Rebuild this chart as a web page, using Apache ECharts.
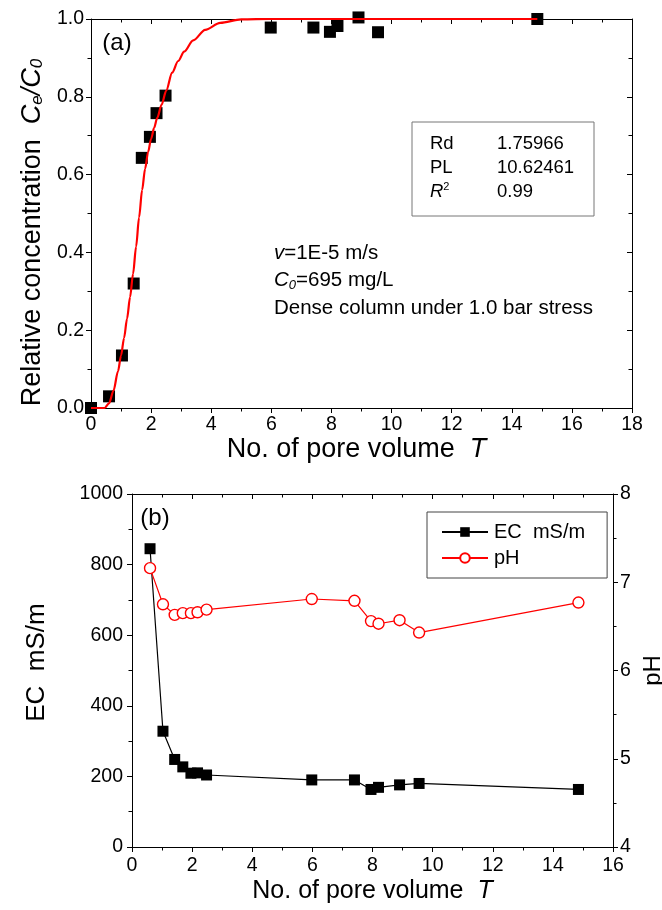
<!DOCTYPE html>
<html>
<head>
<meta charset="utf-8">
<script src="https://cdn.jsdelivr.net/npm/echarts@6/dist/echarts.min.js"></script>
<style>
  html, body { margin: 0; padding: 0; background: #ffffff; }
  #chart { width: 662px; height: 910px; }
</style>
</head>
<body>
<div id="chart"></div>
<script>
const FONT = '"Liberation Sans", Arial, Helvetica, sans-serif';

// ---- (a) breakthrough curve: measured relative concentration vs pore volume
const tBreak   = [0, 0.6, 1.03, 1.42, 1.69, 1.96, 2.18, 2.48, 5.98, 7.4, 7.95, 8.2, 8.9, 9.55, 14.85];
const relConc  = [0, 0.03, 0.135, 0.32, 0.643, 0.697, 0.758, 0.803, 0.978, 0.978, 0.967, 0.982, 1.004, 0.966, 1.0];

// fitted CDE curve (Rd = 1.75966, PL = 10.62461)
const tFit = [0, 0.45, 0.6, 0.75, 0.9, 1.0, 1.1, 1.2, 1.3, 1.4, 1.5, 1.6, 1.7, 1.8, 1.9, 2.0, 2.1, 2.2, 2.35, 2.5, 2.7, 2.9, 3.1, 3.4, 3.8, 4.3, 5.0, 6.0, 10.0, 14.85];
const cFit = [0, 0, 0.012, 0.045, 0.095, 0.135, 0.18, 0.23, 0.285, 0.345, 0.415, 0.49, 0.56, 0.615, 0.658, 0.692, 0.72, 0.745, 0.78, 0.815, 0.862, 0.892, 0.916, 0.945, 0.972, 0.99, 0.999, 1.0, 1.0, 1.0];

// ---- (b) effluent EC and pH vs pore volume
const tEffluent = [0.6, 1.03, 1.42, 1.69, 1.96, 2.18, 2.48, 5.98, 7.4, 7.95, 8.2, 8.9, 9.55, 14.85];
const ecValues  = [845, 328, 248, 227, 209, 210, 204, 190, 190, 163, 169, 176, 180, 163];
const phValues  = [7.16, 6.75, 6.63, 6.65, 6.65, 6.66, 6.69, 6.81, 6.79, 6.56, 6.53, 6.57, 6.43, 6.77];

// ---- tick labels
const xTicksA = ['0', '2', '4', '6', '8', '10', '12', '14', '16', '18'];
const yTicksA = ['0.0', '0.2', '0.4', '0.6', '0.8', '1.0'];
const xTicksB = ['0', '2', '4', '6', '8', '10', '12', '14', '16'];
const ecTicks = ['0', '200', '400', '600', '800', '1000'];
const phTicks = ['4', '5', '6', '7', '8'];

function zip(xs, ys) { return xs.map((x, i) => [x, ys[i]]); }

function scaleFrom(ticks) {
  const nums = ticks.map(Number);
  return { min: nums[0], max: nums[nums.length - 1], interval: nums[1] - nums[0] };
}
function labelFrom(ticks) {
  const map = {};
  ticks.forEach(t => { map[Number(t).toFixed(4)] = t; });
  return v => map[Number(v).toFixed(4)] ?? '';
}

const TICK_FONT = 19.5;

function valueAxis(ticks, opts) {
  const s = scaleFrom(ticks);
  const showLabel = opts.showLabel !== false;
  return Object.assign({
    type: 'value',
    min: s.min, max: s.max, interval: s.interval,
    scale: false,
    axisLine: { show: true, onZero: false, lineStyle: { color: '#000', width: 1 } },
    axisTick: { show: true, inside: !!opts.inside, length: 5, lineStyle: { color: '#000', width: 1 } },
    minorTick: { show: true, splitNumber: 2, length: 3.5, lineStyle: { color: '#000', width: 1 } },
    splitLine: { show: false },
    minorSplitLine: { show: false },
    axisLabel: {
      show: showLabel, color: '#000', fontFamily: FONT, fontSize: TICK_FONT,
      margin: opts.margin || 8, formatter: labelFrom(ticks),
      showMinLabel: true, showMaxLabel: true, hideOverlap: false
    }
  }, opts.extra || {});
}

const titleStyle = (size, padding) => ({
  color: '#000', fontFamily: FONT, fontSize: size, lineHeight: size,
  padding: padding || 0,
  rich: {
    n: { fontFamily: FONT, fontSize: size, color: '#000', lineHeight: size },
    i: { fontFamily: FONT, fontSize: size, color: '#000', fontStyle: 'italic', lineHeight: size },
    s: { fontFamily: FONT, fontSize: Math.round(size * 0.62), color: '#000', fontStyle: 'italic', verticalAlign: 'bottom', lineHeight: Math.round(size * 0.62) }
  }
});

const chart = echarts.init(document.getElementById('chart'), null, { renderer: 'canvas' });

const option = {
  backgroundColor: '#ffffff',
  animation: false,
  grid: [
    { left: 91, top: 19, width: 541, height: 389, containLabel: false, outerBoundsMode: 'none' },
    { left: 132, top: 494, width: 481, height: 353, containLabel: false, outerBoundsMode: 'none' }
  ],
  xAxis: [
    valueAxis(xTicksA, { margin: 7, extra: {
      gridIndex: 0, position: 'bottom',
      name: '{n|No. of pore volume  }{i|T}', nameLocation: 'middle', nameGap: 22,
      nameTextStyle: titleStyle(27, [0, 10, 0, 0])
    }}),
    valueAxis(xTicksA, { inside: true, showLabel: false, extra: { gridIndex: 0, position: 'top' } }),
    valueAxis(xTicksB, { margin: 9, extra: {
      gridIndex: 1, position: 'bottom',
      name: '{n|No. of pore volume  }{i|T}', nameLocation: 'middle', nameGap: 32,
      nameTextStyle: titleStyle(25)
    }}),
    valueAxis(xTicksB, { inside: true, showLabel: false, extra: { gridIndex: 1, position: 'top' } })
  ],
  yAxis: [
    valueAxis(yTicksA, { margin: 7, extra: {
      gridIndex: 0, position: 'left',
      name: '{n|Relative concentration  }{i|C}{s|e}{i|/C}{s|0}', nameLocation: 'middle', nameRotate: 90, nameGap: 38,
      nameTextStyle: titleStyle(27, [0, 38, 0, 0])
    }}),
    valueAxis(yTicksA, { inside: true, showLabel: false, extra: { gridIndex: 0, position: 'right' } }),
    valueAxis(ecTicks, { margin: 9, extra: {
      gridIndex: 1, position: 'left',
      name: 'EC  mS/m', nameLocation: 'middle', nameRotate: 90, nameGap: 82,
      nameTextStyle: titleStyle(26, [0, 0, 0, 16])
    }}),
    valueAxis(phTicks, { margin: 7, extra: {
      gridIndex: 1, position: 'right',
      name: 'pH', nameLocation: 'middle', nameRotate: 90, nameGap: 20,
      nameTextStyle: titleStyle(24)
    }})
  ],
  legend: {
    show: true,
    orient: 'vertical',
    left: 427, top: 512,
    padding: [10, 22, 10, 14],
    itemGap: 6,
    itemWidth: 46, itemHeight: 12,
    borderColor: '#444', borderWidth: 1, borderRadius: 0,
    backgroundColor: '#ffffff',
    textStyle: { color: '#000', fontFamily: FONT, fontSize: 20, padding: [0, 0, 0, 1] },
    data: ['EC  mS/m', 'pH']
  },
  series: [
    {
      name: 'measured',
      type: 'scatter',
      xAxisIndex: 0, yAxisIndex: 0,
      symbol: 'rect', symbolSize: 12,
      clip: false,
      itemStyle: { color: '#000', opacity: 1 },
      data: zip(tBreak, relConc)
    },
    {
      name: 'fit',
      type: 'line',
      xAxisIndex: 0, yAxisIndex: 0,
      showSymbol: false, symbol: 'none',
      smooth: 0.3, smoothMonotone: 'x',
      clip: false,
      lineStyle: { color: '#ff0000', width: 2.2 },
      data: zip(tFit, cFit)
    },
    {
      name: 'EC  mS/m',
      type: 'line',
      xAxisIndex: 2, yAxisIndex: 2,
      symbol: 'rect', symbolSize: 11, showSymbol: true,
      clip: false,
      lineStyle: { color: '#000', width: 1.2 },
      itemStyle: { color: '#000', borderWidth: 0, opacity: 1 },
      data: zip(tEffluent, ecValues)
    },
    {
      name: 'pH',
      type: 'line',
      xAxisIndex: 2, yAxisIndex: 3,
      symbol: 'circle', symbolSize: 11, showSymbol: true,
      clip: false,
      lineStyle: { color: '#ff0000', width: 1.2 },
      itemStyle: { color: '#ffffff', borderColor: '#ff0000', borderWidth: 1.4, opacity: 1 },
      data: zip(tEffluent, phValues)
    }
  ],
  graphic: [
    // panel labels
    { type: 'text', x: 117, y: 43, style: { text: '(a)', fontFamily: FONT, fontSize: 24, fill: '#000', align: 'center', verticalAlign: 'middle' } },
    { type: 'text', x: 155, y: 518, style: { text: '(b)', fontFamily: FONT, fontSize: 24, fill: '#000', align: 'center', verticalAlign: 'middle' } },
    // fit parameters box
    { type: 'rect', shape: { x: 412, y: 122, width: 182, height: 94 }, style: { fill: 'none', stroke: '#777', lineWidth: 1 } },
    { type: 'text', x: 430, y: 144, style: { text: 'Rd', fontFamily: FONT, fontSize: 18.5, fill: '#000', verticalAlign: 'middle' } },
    { type: 'text', x: 497, y: 144, style: { text: '1.75966', fontFamily: FONT, fontSize: 18.5, fill: '#000', verticalAlign: 'middle' } },
    { type: 'text', x: 430, y: 168, style: { text: 'PL', fontFamily: FONT, fontSize: 18.5, fill: '#000', verticalAlign: 'middle' } },
    { type: 'text', x: 497, y: 168, style: { text: '10.62461', fontFamily: FONT, fontSize: 18.5, fill: '#000', verticalAlign: 'middle' } },
    { type: 'text', x: 430, y: 192, style: {
      text: '{i|R}{p|2}', verticalAlign: 'middle',
      rich: {
        i: { fontFamily: FONT, fontSize: 18.5, fontStyle: 'italic', fill: '#000', lineHeight: 22 },
        p: { fontFamily: FONT, fontSize: 11, fill: '#000', verticalAlign: 'top', lineHeight: 11 }
      }
    } },
    { type: 'text', x: 497, y: 192, style: { text: '0.99', fontFamily: FONT, fontSize: 18.5, fill: '#000', verticalAlign: 'middle' } },
    // experiment conditions
    { type: 'text', x: 274, y: 253, style: {
      text: '{i|v}{n|=1E-5 m/s}', verticalAlign: 'middle',
      rich: {
        i: { fontFamily: FONT, fontSize: 20.5, fontStyle: 'italic', fill: '#000', lineHeight: 24 },
        n: { fontFamily: FONT, fontSize: 20.5, fill: '#000', lineHeight: 24 }
      }
    } },
    { type: 'text', x: 274, y: 280, style: {
      text: '{i|C}{s|0}{n|=695 mg/L}', verticalAlign: 'middle',
      rich: {
        i: { fontFamily: FONT, fontSize: 20.5, fontStyle: 'italic', fill: '#000', lineHeight: 24 },
        s: { fontFamily: FONT, fontSize: 13, fontStyle: 'italic', fill: '#000', verticalAlign: 'bottom', lineHeight: 13 },
        n: { fontFamily: FONT, fontSize: 20.5, fill: '#000', lineHeight: 24 }
      }
    } },
    { type: 'text', x: 274, y: 308, style: { text: 'Dense column under 1.0 bar stress', fontFamily: FONT, fontSize: 20.5, fill: '#000', verticalAlign: 'middle' } }
  ]
};

chart.setOption(option);
</script>
</body>
</html>
